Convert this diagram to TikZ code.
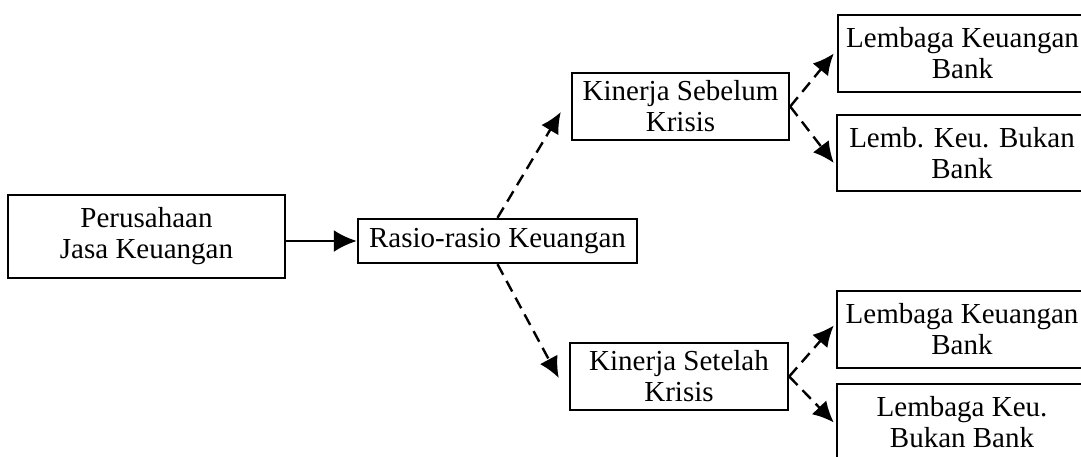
\documentclass[tikz,border=0pt]{standalone}
\usepackage{fontspec}
\setmainfont{Liberation Serif}
\usetikzlibrary{arrows.meta,calc}
\begin{document}
\begin{tikzpicture}[x=1pt,y=-1pt,
 box/.style={draw, line width=2.4pt, inner sep=0pt, align=center, font=\fontsize{29}{31}\selectfont},
 solidarrow/.style={line width=2.5pt, -{Latex[length=23pt,width=22pt]}},
 dasharrow/.style={line width=2.4pt, dash pattern=on 12pt off 7pt, -{Latex[length=21pt,width=20pt]}}]
\useasboundingbox (0,0) rectangle (1081,456);
\clip (0,0) rectangle (1081,456);
\fill[white] (0,0) rectangle (1081,456);
\node[box, minimum width=277pt, minimum height=83pt] (A) at (146.5,236.5) {Perusahaan\\Jasa Keuangan};
\node[box, minimum width=279pt, minimum height=44pt] (B) at (497.5,241) {Rasio-rasio Keuangan};
\node[box, minimum width=217pt, minimum height=67pt] (C) at (680.5,106.5) {Kinerja Sebelum\\Krisis};
\node[box, minimum width=218pt, minimum height=67pt] (F) at (679,376.5) {Kinerja Setelah\\Krisis};
\node[box, minimum width=249pt, minimum height=77pt] (D) at (962.5,53.5) {Lembaga Keuangan\\Bank};
\node[box, minimum width=250pt, minimum height=76pt] (E) at (962,153) {Lemb. Keu. Bukan\\Bank};
\node[box, minimum width=250pt, minimum height=77pt] (G) at (962,329.5) {Lembaga Keuangan\\Bank};
\node[box, minimum width=250pt, minimum height=77pt] (H) at (962,422.5) {Lembaga Keu.\\Bukan Bank};
\draw[solidarrow] (A.east |- B.west) -- (B.west);
\draw[dasharrow] (B.north) -- ($(C.west)+(-10,5.5)$);
\draw[dasharrow] (B.south) -- ($(F.west)+(-10,1.5)$);
\draw[dasharrow] (C.east) -- ($(D.west)+(-3,0)$);
\draw[dasharrow] (C.east) -- ($(E.west)+(-2,10)$);
\draw[dasharrow] (F.east) -- ($(G.west)+(-2,-4)$);
\draw[dasharrow] (F.east) -- ($(H.west)+(-2,0)$);
\end{tikzpicture}
\end{document}
